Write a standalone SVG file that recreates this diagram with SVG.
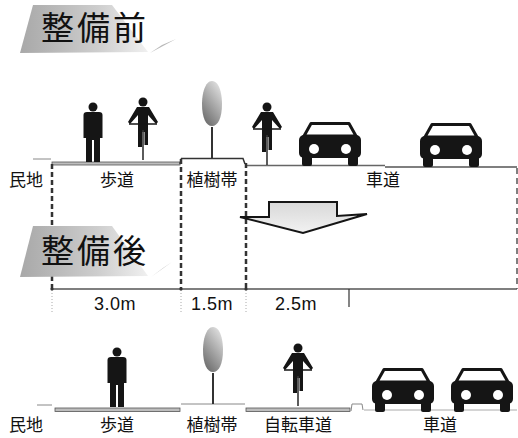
<svg xmlns="http://www.w3.org/2000/svg" width="518" height="438" viewBox="0 0 518 438">
  <style>
    .lbl { font-family: "Noto Sans CJK JP", "Noto Sans", sans-serif; font-size: 17px; fill: #111; text-anchor: middle; }
    .ttl { font-family: "Noto Sans CJK JP", "Noto Sans", sans-serif; font-size: 33px; fill: #111; letter-spacing: 3px; }
    .dim { font-family: "Liberation Sans", Arial, sans-serif; font-size: 18px; fill: #111; text-anchor: middle; letter-spacing: 0.5px; }
    .bound { stroke: #333; stroke-width: 2.5; stroke-dasharray: 5 3; fill: none; }
    .band { fill: #bdbdbd; stroke: #555; stroke-width: 0.8; }
    .thin { stroke: #888; stroke-width: 1; fill: none; }
    .fig { fill: #151515; }
  </style>
  <defs>
    <linearGradient id="ttlFill" x1="0" y1="0" x2="1" y2="0">
      <stop offset="0" stop-color="#a8a8a8"/>
      <stop offset="0.6" stop-color="#cdcdcd"/>
      <stop offset="1" stop-color="#f0f0f0"/>
    </linearGradient>
    <linearGradient id="treeFill" x1="0.8" y1="0" x2="0.2" y2="1">
      <stop offset="0" stop-color="#e2e2e2"/>
      <stop offset="1" stop-color="#6a6a6a"/>
    </linearGradient>
    <linearGradient id="arrowFill" x1="0" y1="0" x2="0" y2="1">
      <stop offset="0" stop-color="#d8d8d8"/>
      <stop offset="1" stop-color="#f2f2f2"/>
    </linearGradient>
    <!-- car, origin at top-left, 62 x 44 -->
    <g id="car">
      <path d="M12,1.5 L50,1.5 L57,14 L5,14 Z" fill="#fff" stroke="#151515" stroke-width="3" stroke-linejoin="round"/>
      <rect x="0" y="13" width="62" height="23" rx="5" class="fig"/>
      <rect x="3" y="33" width="10" height="11" rx="2" class="fig"/>
      <rect x="49" y="33" width="10" height="11" rx="2" class="fig"/>
      <circle cx="15" cy="27" r="5" fill="#fff"/>
      <circle cx="47" cy="27" r="5" fill="#fff"/>
    </g>
    <!-- pedestrian, origin at feet -->
    <g id="walker">
      <circle cx="0" cy="-55" r="4.5" class="fig"/>
      <path class="fig" d="M-6,-50 L6,-50 Q9.5,-50 9.5,-47 L9.5,-24 L7,-24 L7,0 L1,0 L1,-22 L-1,-22 L-1,0 L-7,0 L-7,-24 L-9.5,-24 L-9.5,-47 Q-9.5,-50 -6,-50 Z"/>
    </g>
    <!-- cyclist, origin at wheel contact -->
    <g id="rider">
      <circle cx="0" cy="-58" r="4.5" class="fig"/>
      <path class="fig" d="M-6,-53 L6,-53 L15,-38 L13,-36 L5,-45 L5,-28 L-5,-28 L-5,-45 L-13,-36 L-15,-38 Z"/>
      <line x1="-14" y1="-36" x2="14" y2="-36" stroke="#151515" stroke-width="1.5"/>
      <rect x="-5" y="-30" width="4" height="17" class="fig"/>
      <rect x="1.5" y="-30" width="3.5" height="15" class="fig"/>
      <line x1="0" y1="-30" x2="0" y2="0" stroke="#333" stroke-width="1.6"/>
    </g>
    <!-- roadside tree, origin at base -->
    <g id="tree">
      <path d="M0,-77 C8,-77 10,-62 10,-54 C10,-40 6,-32 0,-32 C-6,-32 -10,-40 -10,-54 C-10,-64 -7,-77 0,-77 Z" fill="url(#treeFill)"/>
      <line x1="0" y1="-31" x2="0" y2="0" stroke="#333" stroke-width="2"/>
    </g>
  </defs>

  <!-- heading: before -->
  <g id="title-before">
    <polygon points="33,5 112,5 148,52 20,53" fill="url(#ttlFill)"/>
    <polygon points="150,53 176,39 162,45" fill="#b8b8b8"/>
    <text class="ttl" x="41" y="40">整備前</text>
  </g>

  <!-- cross-section before -->
  <g id="section-before">
    <line x1="33" y1="159" x2="51" y2="159" class="thin"/>
    <rect x="52" y="162" width="128" height="3" class="band"/>
    <path d="M180,164 L181.5,158.5 L243,158.5 L245,164" stroke="#333" stroke-width="1.5" fill="none"/>
    <line x1="245" y1="165.5" x2="385" y2="165.5" stroke="#666" stroke-width="1.5"/>
    <line x1="385" y1="167" x2="517" y2="167" stroke="#555" stroke-width="1.5"/>
  </g>
  <g id="walker-1"><use href="#walker" x="93" y="162"/></g>
  <g id="rider-1"><use href="#rider" x="143" y="160"/></g>
  <g id="tree-1"><use href="#tree" x="212" y="158"/></g>
  <g id="rider-2"><use href="#rider" x="267" y="165"/></g>
  <g id="car-1"><use href="#car" x="299" y="122"/></g>
  <g id="car-2"><use href="#car" x="420" y="123"/></g>

  <g id="labels-before">
    <text class="lbl" x="26" y="186">民地</text>
    <text class="lbl" x="117" y="186">歩道</text>
    <text class="lbl" x="212" y="186">植樹帯</text>
    <text class="lbl" x="383" y="186">車道</text>
  </g>

  <!-- boundaries and dimensions -->
  <g id="connectors">
    <line x1="52" y1="164" x2="52" y2="289" class="bound"/>
    <line x1="181" y1="159" x2="181" y2="289" class="bound"/>
    <line x1="246" y1="163" x2="246" y2="289" class="bound"/>
    <line x1="517" y1="168" x2="517" y2="289" stroke="#555" stroke-width="1.5" stroke-dasharray="6 4"/>
    <line x1="52" y1="289" x2="517" y2="289" stroke="#555" stroke-width="1.5"/>
    <g stroke="#aaa" stroke-width="1" stroke-dasharray="1 2">
      <line x1="52" y1="290" x2="52" y2="312"/>
      <line x1="181" y1="290" x2="181" y2="312"/>
      <line x1="246" y1="290" x2="246" y2="312"/>
    </g>
    <g fill="#333">
      <circle cx="52" cy="289" r="1.6"/>
      <circle cx="181" cy="289" r="1.6"/>
      <circle cx="246" cy="289" r="1.6"/>
    </g>
    <line x1="349" y1="289" x2="349" y2="307" stroke="#333" stroke-width="1.2"/>
  </g>

  <!-- transition arrow -->
  <g id="arrow">
    <polygon points="269,202 337,202 337,216 367,214 303,233 240,217 269,217" fill="url(#arrowFill)" stroke="#151515" stroke-width="2" stroke-linejoin="miter"/>
  </g>

  <!-- heading: after -->
  <g id="title-after">
    <polygon points="33,226 112,226 148,276 20,277" fill="url(#ttlFill)"/>
    <polygon points="151,277 172,262 163,268" fill="#b8b8b8"/>
    <text class="ttl" x="41" y="263">整備後</text>
  </g>

  <g id="dims">
    <text class="dim" x="115" y="310">3.0m</text>
    <text class="dim" x="212" y="310">1.5m</text>
    <text class="dim" x="296" y="310">2.5m</text>
  </g>

  <!-- cross-section after -->
  <g id="section-after">
    <line x1="37" y1="405" x2="52" y2="405" class="thin"/>
    <rect x="55" y="408" width="125" height="3.5" class="band"/>
    <line x1="181" y1="404" x2="245" y2="404" class="thin"/>
    <rect x="246" y="408" width="104" height="3.5" class="band"/>
    <path d="M351,411 L352,404 L362,404 L363,410" class="thin"/>
    <line x1="364" y1="410" x2="517" y2="410" stroke="#aaa" stroke-width="1"/>
  </g>
  <g id="walker-2"><use href="#walker" x="117" y="407"/></g>
  <g id="tree-2"><use href="#tree" x="213" y="404"/></g>
  <g id="rider-3"><use href="#rider" x="298" y="406"/></g>
  <g id="car-3"><use href="#car" x="372" y="368"/></g>
  <g id="car-4"><use href="#car" x="451" y="368"/></g>

  <g id="labels-after">
    <text class="lbl" x="26" y="431">民地</text>
    <text class="lbl" x="117" y="431">歩道</text>
    <text class="lbl" x="212" y="431">植樹帯</text>
    <text class="lbl" x="298" y="431">自転車道</text>
    <text class="lbl" x="440" y="431">車道</text>
  </g>
</svg>
